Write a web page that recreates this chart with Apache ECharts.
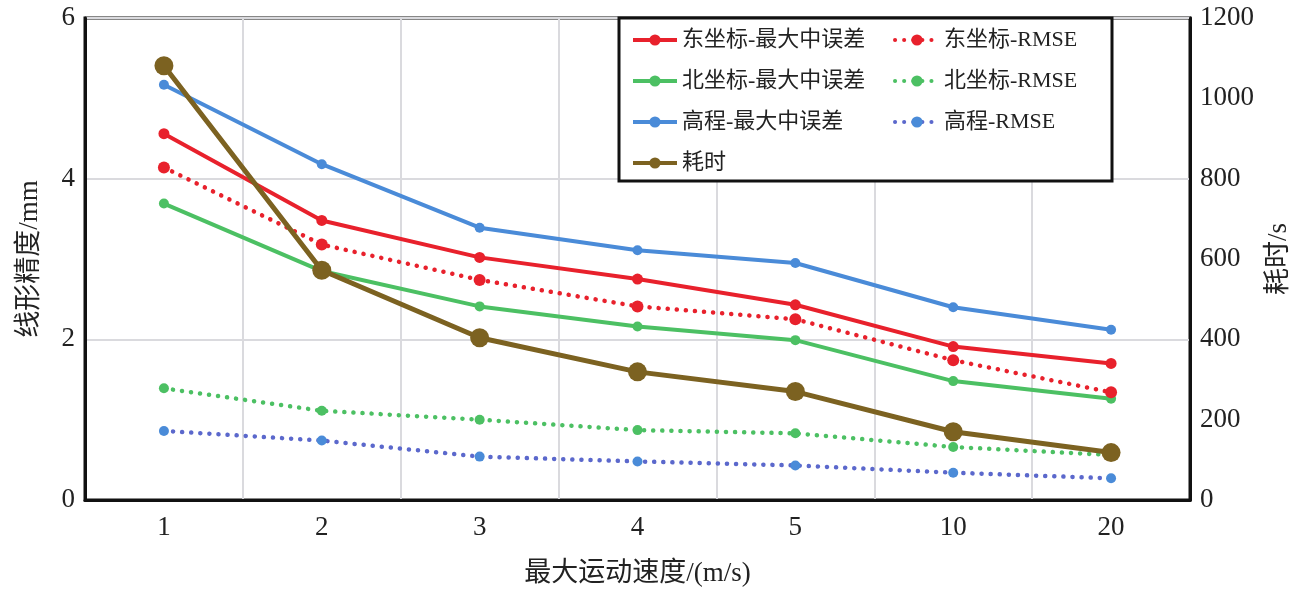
<!DOCTYPE html>
<html>
<head>
<meta charset="utf-8">
<title>最大运动速度与线形精度</title>
<script src="https://cdn.jsdelivr.net/npm/echarts@6/dist/echarts.min.js"></script>
<style>
    html, body { margin: 0; padding: 0; background: #fff; }
    #main { width: 1302px; height: 598px; }
</style>
</head>
<body>
<div id="main"></div>
<script>
(function(echarts){
    "use strict";

    // 横轴：最大运动速度
    var speeds = ['1', '2', '3', '4', '5', '10', '20'];

    // 左轴（mm）
    var eastMax = [4.56, 3.48, 3.02, 2.75, 2.43, 1.91, 1.70];
    var eastRmse = [4.14, 3.18, 2.74, 2.41, 2.25, 1.74, 1.34];
    var northMax = [3.69, 2.85, 2.41, 2.16, 1.99, 1.48, 1.26];
    var northRmse = [1.39, 1.11, 1.00, 0.87, 0.83, 0.66, 0.56];
    var heightMax = [5.17, 4.18, 3.39, 3.11, 2.95, 2.40, 2.12];
    var heightRmse = [0.86, 0.74, 0.54, 0.48, 0.43, 0.34, 0.27];

    // 右轴（s）
    var timeCost = [1081, 572, 404, 319, 270, 170, 118];

    var FONT = "'Liberation Serif', 'Noto Sans CJK SC', serif";
    var RED = '#e8212c', GREEN = '#4cc063', BLUE = '#4a8bd8', BROWN = '#7c6221';
    var DOT = [0.1, 9];

    //实线系列
    function solid(name, data, color, size){
        return {
            name: name, type: 'line', data: data, yAxisIndex: 0,
            symbol: 'circle', symbolSize: size,
            itemStyle: { color: color },
            lineStyle: { color: color, width: 4 },
            z: 3
        };
    }
    //点线系列
    function dotted(name, data, color, lineColor, size){
        return {
            name: name, type: 'line', data: data, yAxisIndex: 0,
            symbol: 'circle', symbolSize: size,
            itemStyle: { color: color },
            lineStyle: { color: lineColor, width: 4.5, type: DOT, cap: 'round' },
            z: 3
        };
    }

    //图例公共配置
    function legendBase(left, names){
        return {
            orient: 'vertical', left: left, top: 24, z: 5,
            itemWidth: 44, itemHeight: 14, itemGap: 19,
            lineStyle: { width: 4 },
            textStyle: { fontFamily: FONT, fontSize: 22, color: '#222' },
            data: names
        };
    }

    var chart = echarts.init(document.getElementById('main'));
    var option = {
        animation: false,
        textStyle: { fontFamily: FONT },
        grid: {
            left: 85, right: 112, top: 18, bottom: 98,
            show: true, borderColor: '#111', borderWidth: 3
        },
        graphic: [{
            type: 'rect', z: 3,
            shape: { x: 619, y: 18, width: 493, height: 163 },
            style: { fill: '#fff', stroke: '#111', lineWidth: 3 }
        }],
        legend: [
            legendBase(626, ['东坐标-最大中误差', '北坐标-最大中误差', '高程-最大中误差', '耗时']),
            legendBase(888, ['东坐标-RMSE', '北坐标-RMSE', '高程-RMSE'])
        ],
        xAxis: {
            type: 'category', data: speeds, boundaryGap: true,
            name: '最大运动速度/(m/s)', nameLocation: 'middle', nameGap: 60,
            nameTextStyle: { fontFamily: FONT, fontSize: 27, color: '#222' },
            axisLine: { lineStyle: { color: '#111', width: 3 } },
            axisTick: { show: false },
            axisLabel: { fontFamily: FONT, fontSize: 27, color: '#222', margin: 14 },
            splitLine: { show: true, lineStyle: { color: '#dadade', width: 2 } }
        },
        yAxis: [{
            type: 'value', min: 0, max: 6, interval: 2,
            name: '线形精度/mm', nameLocation: 'middle', nameGap: 42, nameRotate: 90,
            nameTextStyle: { fontFamily: FONT, fontSize: 27, color: '#222' },
            axisLine: { show: true, lineStyle: { color: '#111', width: 3 } },
            axisTick: { show: false },
            axisLabel: { fontFamily: FONT, fontSize: 27, color: '#222', margin: 10 },
            splitLine: { show: true, lineStyle: { color: '#dadade', width: 2 } }
        }, {
            type: 'value', min: 0, max: 1200, interval: 200, position: 'right',
            name: '耗时/s', nameLocation: 'middle', nameGap: 75, nameRotate: 90,
            nameTextStyle: { fontFamily: FONT, fontSize: 27, color: '#222' },
            axisLine: { show: true, lineStyle: { color: '#111', width: 3 } },
            axisTick: { show: false },
            axisLabel: {
                fontFamily: FONT, fontSize: 27, color: '#222', margin: 10,
                formatter: function(v){ return String(v); }
            },
            splitLine: { show: false }
        }],
        series: [
            solid('东坐标-最大中误差', eastMax, RED, 11),
            solid('北坐标-最大中误差', northMax, GREEN, 10),
            solid('高程-最大中误差', heightMax, BLUE, 10),
            {
                name: '耗时', type: 'line', data: timeCost, yAxisIndex: 1,
                symbol: 'circle', symbolSize: 19,
                itemStyle: { color: BROWN },
                lineStyle: { color: BROWN, width: 5 },
                z: 4
            },
            dotted('东坐标-RMSE', eastRmse, RED, RED, 12),
            dotted('北坐标-RMSE', northRmse, GREEN, GREEN, 10),
            dotted('高程-RMSE', heightRmse, BLUE, '#5b68cc', 10)
        ]
    };
    chart.setOption(option);
})(echarts);
</script>
</body>
</html>
